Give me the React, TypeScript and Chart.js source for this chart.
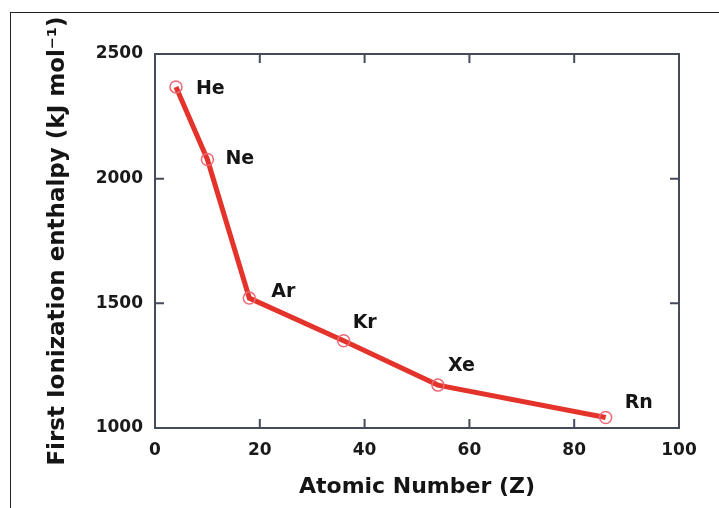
import React, { useEffect, useRef } from "react";
import { Chart, registerables } from "chart.js";

Chart.register(...registerables);

const elements = ["He", "Ne", "Ar", "Kr", "Xe", "Rn"];
const atomicNumbers = [4, 10, 18, 36, 54, 86];
const enthalpies = [2368, 2077, 1521, 1350, 1172, 1042];
const labelOffsets = [
  [20, 2],
  [18, 0],
  [22, -6],
  [9, -18],
  [10, -19],
  [19, -14],
];
const xTicks = [0, 20, 40, 60, 80, 100];
const yTicks = [1000, 1500, 2000, 2500];

const FONT = "'DejaVu Sans', 'Liberation Sans', Arial, sans-serif";

const framePlugin = {
  id: "frameTicks",
  afterDraw(chart: any) {
    const { ctx, chartArea } = chart;
    const xs = chart.scales.x;
    const ys = chart.scales.y;
    const { left, right, top, bottom } = chartArea;
    ctx.save();
    ctx.strokeStyle = "#454b58";
    ctx.lineWidth = 2;
    ctx.strokeRect(left, top, right - left, bottom - top);
    const len = 9;
    ctx.beginPath();
    xTicks.slice(1, -1).forEach((v) => {
      const px = xs.getPixelForValue(v);
      ctx.moveTo(px, bottom);
      ctx.lineTo(px, bottom - len);
      ctx.moveTo(px, top);
      ctx.lineTo(px, top + len);
    });
    yTicks.slice(1, -1).forEach((v) => {
      const py = ys.getPixelForValue(v);
      ctx.moveTo(left, py);
      ctx.lineTo(left + len, py);
      ctx.moveTo(right, py);
      ctx.lineTo(right - len, py);
    });
    ctx.stroke();

    const meta = chart.getDatasetMeta(0);
    ctx.fillStyle = "#151515";
    ctx.font = `bold 19px ${FONT}`;
    ctx.textAlign = "left";
    ctx.textBaseline = "middle";
    meta.data.forEach((pt: any, i: number) => {
      const [dx, dy] = labelOffsets[i];
      ctx.fillText(elements[i], pt.x + dx, pt.y + dy);
    });
    ctx.restore();
  },
};

export default function App() {
  const ref = useRef<HTMLCanvasElement>(null);
  useEffect(() => {
    document.body.style.margin = "0";
    const chart = new Chart(ref.current!, {
      type: "line",
      data: {
        datasets: [
          {
            data: atomicNumbers.map((x, i) => ({ x, y: enthalpies[i] })),
            borderColor: "#e4332a",
            borderWidth: 5,
            pointRadius: 6,
            pointBorderColor: "#ec6a78",
            pointBorderWidth: 1.5,
            pointBackgroundColor: "rgba(0,0,0,0)",
            tension: 0,
          },
        ],
      },
      options: {
        animation: false,
        responsive: false,
        layout: { padding: { left: 0, top: 54, right: 40, bottom: 0 } },
        plugins: { legend: { display: false }, tooltip: { enabled: false } },
        scales: {
          x: {
            type: "linear",
            min: 0,
            max: 100,
            afterBuildTicks: (s: any) => {
              s.ticks = xTicks.map((v) => ({ value: v }));
            },
            afterFit: (s: any) => {
              s.height = 80;
            },
            grid: { display: false },
            border: { display: false },
            ticks: {
              padding: 4,
              color: "#1a1a1a",
              font: { family: FONT, weight: "bold", size: 17 },
              callback: (v: any) => String(v),
            },
            title: {
              display: true,
              text: "Atomic Number (Z)",
              color: "#151515",
              font: { family: FONT, weight: "bold", size: 22 },
              padding: { top: 0, bottom: 8 },
            },
          },
          y: {
            type: "linear",
            min: 1000,
            max: 2500,
            afterBuildTicks: (s: any) => {
              s.ticks = yTicks.map((v) => ({ value: v }));
            },
            afterFit: (s: any) => {
              s.width = 155;
            },
            grid: { display: false },
            border: { display: false },
            ticks: {
              padding: 4,
              color: "#1a1a1a",
              font: { family: FONT, weight: "bold", size: 17 },
              callback: (v: any) => String(v),
            },
            title: {
              display: true,
              text: "First Ionization enthalpy (kJ mol\u207B\u00B9)",
              color: "#151515",
              font: { family: FONT, weight: "bold", size: 23 },
              padding: { top: 44, bottom: 0 },
            },
          },
        },
      },
      plugins: [framePlugin],
    } as any);
    return () => chart.destroy();
  }, []);
  return (
    <div style={{ position: "relative", width: 719, height: 508, background: "#fff" }}>
      <canvas ref={ref} width={719} height={508} style={{ display: "block" }} />
      <div
        style={{
          position: "absolute",
          left: 10,
          top: 12,
          right: 0,
          bottom: 0,
          borderLeft: "1.5px solid #222",
          borderTop: "1.5px solid #222",
          pointerEvents: "none",
        }}
      />
    </div>
  );
}
